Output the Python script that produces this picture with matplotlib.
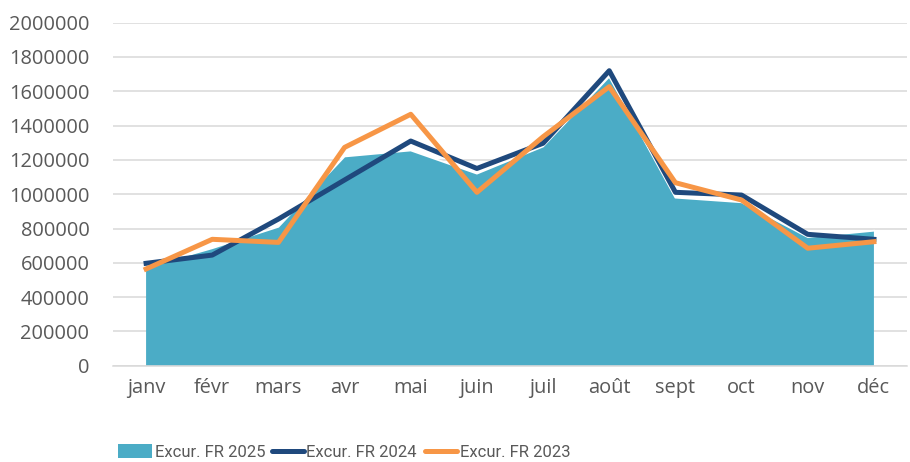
import numpy as np
import matplotlib
matplotlib.use("Agg")
import matplotlib.pyplot as plt
from matplotlib.patches import Patch
from matplotlib.lines import Line2D

mois = ["janv", "févr", "mars", "avr", "mai", "juin",
        "juil", "août", "sept", "oct", "nov", "déc"]
fr_2025 = [575000, 685000, 810000, 1220000, 1255000, 1120000,
           1278000, 1685000, 980000, 953000, 750000, 787000]
fr_2024 = [597000, 645000, 855000, 1083000, 1310000, 1150000,
           1297000, 1720000, 1011000, 995000, 766000, 737000]
fr_2023 = [564000, 737000, 719000, 1273000, 1466000, 1011000,
           1335000, 1627000, 1067000, 966000, 685000, 723000]
noms = ["Excur. FR 2025", "Excur. FR 2024", "Excur. FR 2023"]

c_area = "#4BACC6"
c_2024 = "#1F497D"
c_2023 = "#F79646"
c_txt = "#595959"
c_grid = "#D9D9D9"

plt.rcParams['font.family'] = ['Open Sans', 'DejaVu Sans']

fig = plt.figure(figsize=(9.10, 4.62), dpi=100)
ax = fig.add_axes([113/910, 1-365.7/462, (907-113)/910, (365.7-22.7)/462])

x = np.arange(len(mois))
ax.fill_between(x, 0, fr_2025, facecolor=c_area, edgecolor='none', zorder=2)
ax.plot(x, fr_2025, color='white', lw=1.3, zorder=3)
ax.plot(x, fr_2024, color=c_2024, lw=3.6, zorder=4)
ax.plot(x, fr_2023, color=c_2023, lw=3.6, zorder=5)

ax.set_xlim(-0.5, 11.5)
ax.set_ylim(0, 2000000)
ax.set_yticks(np.arange(0, 2000001, 200000))
ax.set_yticklabels([str(v) for v in range(0, 2000001, 200000)])
ax.set_xticks(x)
ax.set_xticklabels(mois)
ax.grid(axis='y', color=c_grid, lw=1.1, zorder=0)
ax.set_axisbelow(True)
for s in ['top', 'right', 'left']:
    ax.spines[s].set_visible(False)
ax.spines['bottom'].set_color(c_grid)
ax.spines['bottom'].set_linewidth(1.1)
ax.tick_params(axis='both', length=0, labelsize=14.4, colors=c_txt)
ax.tick_params(axis='y', pad=17)
ax.tick_params(axis='x', pad=9)

# one legend per entry so each sits where the reference puts it
handles = [Patch(facecolor=c_area, edgecolor='none'),
           Line2D([], [], color=c_2024, lw=3.6, solid_capstyle='round'),
           Line2D([], [], color=c_2023, lw=3.6, solid_capstyle='round')]
x_leg = [118, 272, 425]
h_len = [2.05, 1.92, 1.92]
for h, nom, xl, hl in zip(handles, noms, x_leg, h_len):
    fig.legend([h], [nom], loc='center left', bbox_to_anchor=(xl/910, 1-452/462),
               frameon=False, borderpad=0, borderaxespad=0,
               handlelength=hl, handleheight=0.85, handletextpad=0.15,
               prop={'family': ['Roboto', 'DejaVu Sans'], 'size': 12},
               labelcolor=c_txt)

fig.savefig("out.png", dpi=100)
